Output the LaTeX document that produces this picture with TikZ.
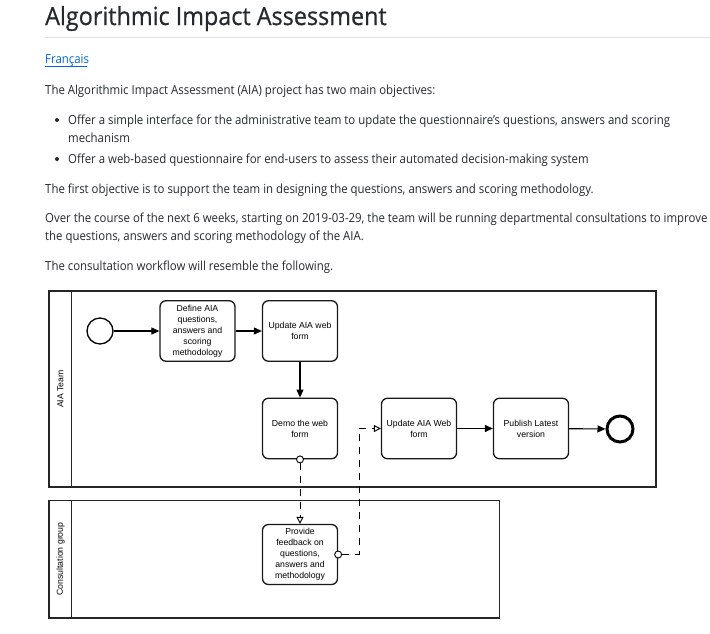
\documentclass[tikz,border=0pt]{standalone}
\usepackage{fontspec}
\setmainfont[FakeStretch=0.913]{Open Sans}
\newfontfamily\titlefont[FakeStretch=0.935,FakeBold=0.6]{Open Sans}
\newfontfamily\diafont{Liberation Sans}
\usetikzlibrary{arrows.meta}
\definecolor{txt}{HTML}{24292E}
\definecolor{linkc}{HTML}{0366D6}
\definecolor{rulec}{HTML}{DFE2E5}
\begin{document}
\begin{tikzpicture}[x=1pt,y=-1pt,
  para/.style={anchor=base west,inner sep=0pt,text=txt,font=\fontsize{12.5}{15}\selectfont},
  pool/.style={draw=black!85,line width=1.3pt},
  task/.style={draw=black!90,line width=1.3pt,rounded corners=6pt,minimum width=75pt,minimum height=60.5pt,inner sep=0pt,align=center,font=\diafont\fontsize{8.7}{10.9}\selectfont},
  flow/.style={draw=black,line width=1.1pt,-{Triangle[length=8pt,width=7pt]}},
  msg/.style={draw=black,line width=0.9pt,dash pattern=on 7pt off 6pt,-{Triangle[open,length=7pt,width=7pt]}},
  mdot/.style={circle,draw=black,fill=white,line width=0.9pt,minimum size=7pt,inner sep=0pt},
  lanelbl/.style={rotate=90,font=\diafont\fontsize{8.7}{10}\selectfont,inner sep=0pt}
]
\useasboundingbox[fill=white] (0,0) rectangle (710,633);
% page text
\node[para,font=\titlefont\fontsize{25}{30}\selectfont] (title) at (45,25) {Algorithmic Impact Assessment};
\draw[rulec,line width=1pt] (45,37) -- (710,37);
\node[para,text=linkc] (fr) at (45,63) {Français};
\draw[linkc,line width=0.7pt] (fr.base west) ++(0,3.5) -- ++(42,0);
\node[para] (p1) at (45,94) {The Algorithmic Impact Assessment (AIA) project has two main objectives:};
\fill[txt] (57,120) circle (2pt);
\node[para] (b1) at (68,124) {Offer a simple interface for the administrative team to update the questionnaire's questions, answers and scoring};
\node[para] (b1b) at (68,142) {mechanism};
\fill[txt] (57,159) circle (2pt);
\node[para] (b2) at (68,163) {Offer a web-based questionnaire for end-users to assess their automated decision-making system};
\node[para] (p2) at (45,193) {The first objective is to support the team in designing the questions, answers and scoring methodology.};
\node[para] (p3) at (45,222) {Over the course of the next 6 weeks, starting on 2019-03-29, the team will be running departmental consultations to improve};
\node[para] (p3b) at (45,240) {the questions, answers and scoring methodology of the AIA.};
\node[para] (p4) at (45,270) {The consultation workflow will resemble the following.};
% pools
\draw[pool] (49,291) rectangle (656,487);
\draw[pool] (71.5,291) -- (71.5,487);
\node[lanelbl] (l1) at (60.5,389) {AIA Team};
\draw[pool] (49,500.5) rectangle (499.5,618);
\draw[pool] (71.5,500.5) -- (71.5,618);
\node[lanelbl] (l2) at (60.5,559) {Consultation group};
% events
\node[circle,draw=black,line width=1.3pt,minimum size=26pt,inner sep=0pt] (start) at (100,331) {};
\node[circle,draw=black,line width=3pt,minimum size=26pt,inner sep=0pt] (end) at (620,429) {};
% tasks
\node[task] (define) at (197.5,331) {Define AIA\\questions,\\answers and\\scoring\\methodology};
\node[task] (update) at (300,331) {Update AIA web\\form};
\node[task] (demo) at (300,428.5) {Demo the web\\form};
\node[task] (update2) at (419,428.5) {Update AIA Web\\form};
\node[task] (publish) at (531,428.5) {Publish Latest\\version};
\node[task,minimum height=60pt] (provide) at (300,554.5) {Provide\\feedback on\\questions,\\answers and\\methodology};
% flows
\draw[flow] (start) -- (define);
\draw[flow] (define) -- (update);
\draw[flow] (update) -- (demo);
\draw[flow] (update2) -- (publish);
\draw[flow] (publish) -- (end);
% messages
\node[mdot] (m1) at (demo.south) {};
\node[mdot] (m2) at (provide.east) {};
\coordinate (c1) at (359,554.5);
\coordinate (c2) at (359,428.5);
\draw[msg] (m1) -- (provide.north);
\draw[msg] (m2) -- (c1) -- (c2) -- (update2.west);
\end{tikzpicture}
\end{document}
